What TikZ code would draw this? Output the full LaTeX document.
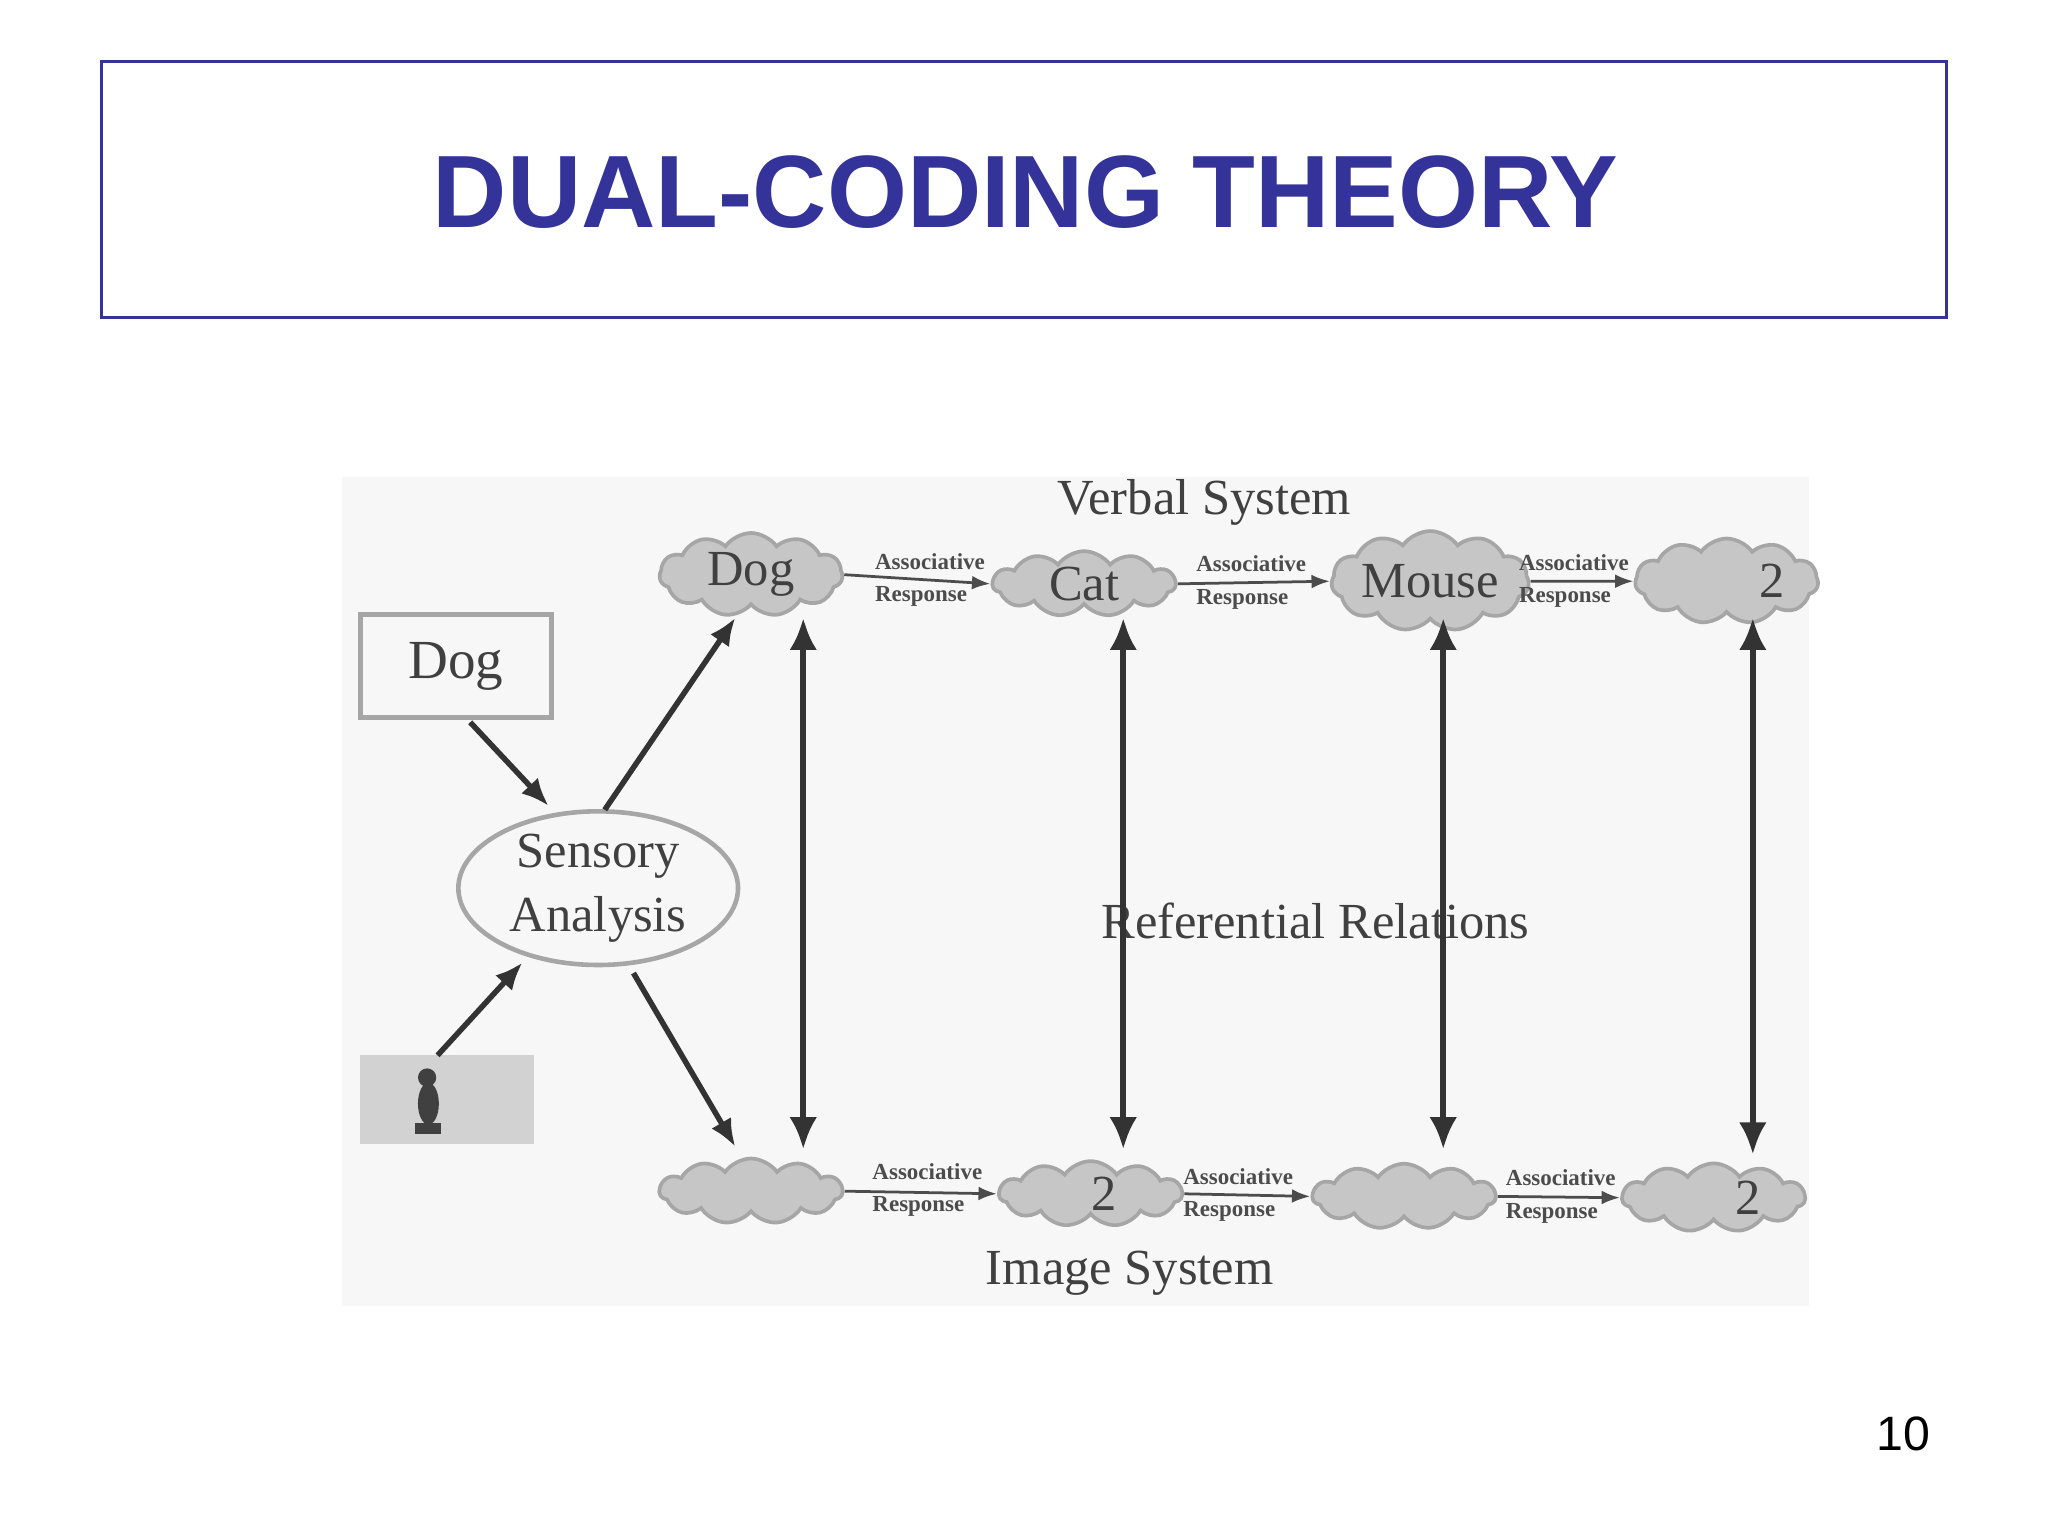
\documentclass[tikz,border=0pt]{standalone}
\usepackage{fontspec}
\setmainfont{Liberation Serif}
\newfontfamily\sansf{Liberation Sans}
\usetikzlibrary{shapes.symbols,shapes.geometric,arrows.meta}
\definecolor{ind}{HTML}{333399}
\begin{document}
\begin{tikzpicture}[x=0.01cm,y=-0.01cm,
 cl/.style={cloud,cloud puffs=11,cloud puff arc=110,aspect=2.6,minimum width=14mm,minimum height=5mm,inner sep=0pt,fill=gray!45,draw=gray!70,line width=0.8pt,font=\fontsize{11pt}{12pt}\selectfont,text=black!75},
 ar/.style={-{Latex[length=6pt,width=5pt]},line width=1.2pt,black!80},
 dar/.style={{Latex[length=7pt,width=6pt]}-{Latex[length=7pt,width=6pt]},line width=1.3pt,black!80},
 sar/.style={-{Latex[length=4pt,width=3pt]},line width=0.6pt,black!70},
 asr/.style={font=\fontsize{5pt}{7pt}\selectfont\bfseries,text=black!70,align=left,inner sep=0pt}]
\useasboundingbox (0,0) rectangle (1568,1176);
\fill[white] (0,0) rectangle (1568,1176);
\draw[ind,line width=0.6pt] (78,47) rectangle (1490,243);
\node[font=\sansf\bfseries\fontsize{22.4pt}{24pt}\selectfont,text=ind] (title) at (785,147) {DUAL-CODING THEORY};
\node[font=\sansf\fontsize{10.5pt}{12pt}\selectfont] (pn) at (1457,1098) {10};
\fill[gray!6] (262,365) rectangle (1385,1000);
\node[font=\fontsize{11pt}{12pt}\selectfont,text=black!75] (vs) at (922,385) {Verbal System};
\node[font=\fontsize{11pt}{12pt}\selectfont,text=black!75] (is) at (865,975) {Image System};
\node[font=\fontsize{11pt}{12pt}\selectfont,text=black!75] (rr) at (1007,705) {Referential Relations};
% top clouds
\node[cl] (t1) at (575,440) {Dog};
\node[cl] (t2) at (830,447) {Cat};
\node[cl] (t3) at (1095,445) {Mouse};
\node[cl] (t4) at (1322,445) {\hspace{20pt}2};
% bottom clouds
\node[cl] (b1) at (575,912) {};
\node[cl] (b2) at (835,914) {\hspace{6pt}2};
\node[cl] (b3) at (1075,916) {};
\node[cl] (b4) at (1312,917) {\hspace{15pt}2};
% associative arrows
\foreach \a/\b/\x/\y in {t1/t2/712/444,t2/t3/958/446,t3/t4/1205/445,b1/b2/710/911,b2/b3/948/915,b3/b4/1195/916}{
 \draw[sar] (\a.east) -- (\b.west);
 \node[asr] at (\x,\y) {Associative\\Response};}
% vertical
\draw[dar] (615,473) -- (615,880);
\draw[dar] (860,473) -- (860,880);
\draw[dar] (1105,473) -- (1105,880);
\draw[dar] (1342,473) -- (1342,884);
% dog box, ellipse, photo
\node[draw=gray!70,line width=1pt,minimum width=14.6mm,minimum height=7.9mm,font=\fontsize{12pt}{14pt}\selectfont,text=black!75] (dog) at (349,510) {Dog};
\node[ellipse,draw=gray!70,line width=1pt,minimum width=21.4mm,minimum height=11mm,inner sep=0pt,align=center,font=\fontsize{11pt}{14pt}\selectfont,text=black!75] (sa) at (458,680) {Sensory\\Analysis};
\node[fill=gray!35,minimum width=13.3mm,minimum height=6.8mm,inner sep=0pt] (ph) at (342,842) {};
\fill[black!75] (318,860) rectangle (338,868);
\fill[black!75] (328,845) ellipse (8 and 16);
\fill[black!75] (327,825) circle (7);
\coordinate (c1) at (360,553); \coordinate (c2) at (420,617);
\coordinate (c3) at (335,808); \coordinate (c4) at (400,737);
\coordinate (c5) at (463,620); \coordinate (c6) at (563,473);
\coordinate (c7) at (485,745); \coordinate (c8) at (563,878);
\draw[ar] (c1) -- (c2);
\draw[ar] (c3) -- (c4);
\draw[ar] (c5) -- (c6);
\draw[ar] (c7) -- (c8);
\end{tikzpicture}
\end{document}
